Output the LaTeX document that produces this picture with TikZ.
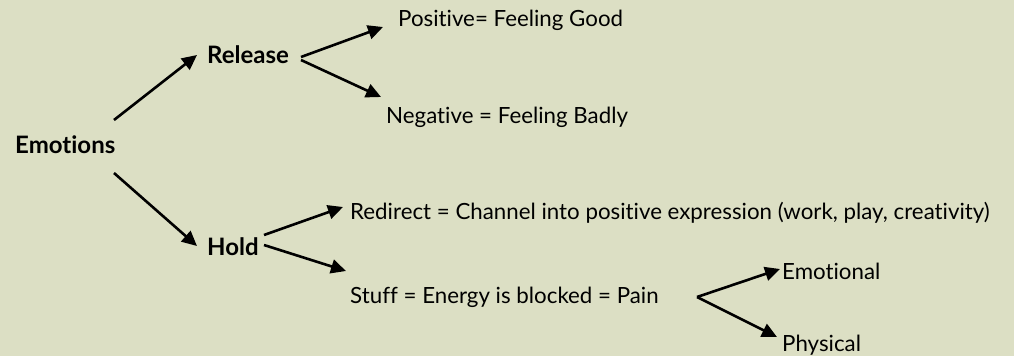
\documentclass[tikz,border=0pt]{standalone}
\usepackage{fontspec}
\setmainfont{Lato}[Ligatures=NoCommon]
\usetikzlibrary{calc,arrows.meta}
\definecolor{bg}{RGB}{220,223,196}
\tikzset{
  lbl/.style={anchor=base west, inner sep=0pt, font=\fontsize{22.3}{26}\selectfont},
  blbl/.style={lbl, font=\fontsize{24}{28}\selectfont\bfseries},
  arr/.style={line width=2.6pt, -{Triangle[length=15pt,width=14pt]}}
}
\begin{document}
\begin{tikzpicture}[x=1pt,y=-1pt]
\fill[bg] (0,0) rectangle (1014,356);
\useasboundingbox (0,0) rectangle (1014,356);
\node[blbl] (emo) at (15,153) {Emotions};
\node[blbl] (rel) at (207,63) {Release};
\node[blbl] (hold) at (207,255) {Hold};
\node[lbl] (pos) at (398,27) {Positive= Feeling Good};
\node[lbl] (neg) at (386,123) {Negative = Feeling Badly};
\node[lbl] (red) at (350,219) {Redirect = Channel into positive expression (work, play, creativity)};
\node[lbl] (stuff) at (350,303) {Stuff = Energy is blocked = Pain};
\node[lbl] (emot) at (782,279) {Emotional};
\node[lbl] (phys) at (782,351) {Physical};
\coordinate (fork) at (697,297);
\draw[arr] ($(emo.base west)+(99,-33)$) -- ($(rel.base west)+(-10,-8)$);
\draw[arr] ($(emo.base west)+(99,20)$) -- ($(hold.base west)+(-10,-9)$);
\draw[arr] ($(rel.base west)+(94,-6)$) -- ($(pos.base west)+(-15,0)$);
\draw[arr] ($(rel.base west)+(94,-3)$) -- ($(neg.base west)+(-5,-26)$);
\draw[arr] ($(hold.base west)+(57,-20)$) -- ($(red.base west)+(-7,-12)$);
\draw[arr] ($(hold.base west)+(57,-10)$) -- ($(stuff.base west)+(-4,-32)$);
\draw[arr] (fork) -- ($(emot.base west)+(-2,-10)$);
\draw[arr] (fork) -- ($(phys.base west)+(-5,-14)$);
\end{tikzpicture}
\end{document}
